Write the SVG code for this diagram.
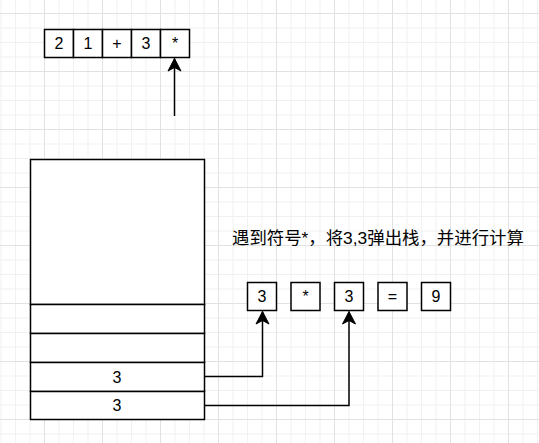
<svg xmlns="http://www.w3.org/2000/svg" width="539" height="443" viewBox="0 0 539 443">
<defs>
<pattern id="grid" patternUnits="userSpaceOnUse" x="44" y="13" width="58" height="58">
<rect x="14.5" y="0" width="1" height="58" fill="#f1f1f1"/>
<rect x="29" y="0" width="1" height="58" fill="#f1f1f1"/>
<rect x="43.5" y="0" width="1" height="58" fill="#f1f1f1"/>
<rect x="0" y="14.5" width="58" height="1" fill="#f1f1f1"/>
<rect x="0" y="29" width="58" height="1" fill="#f1f1f1"/>
<rect x="0" y="43.5" width="58" height="1" fill="#f1f1f1"/>
<rect x="0" y="0" width="1" height="58" fill="#e2e2e2"/>
<rect x="0" y="0" width="58" height="1" fill="#e2e2e2"/>
</pattern>
<marker id="arr" markerUnits="userSpaceOnUse" markerWidth="16" markerHeight="16" viewBox="-14 -8 16 16" refX="0" refY="0" orient="auto">
<path d="M0,0 L-12.5,-6.5 L-9,0 L-12.5,6.5 Z" fill="#000" stroke="#000" stroke-width="1"/>
</marker>
</defs>
<style>
.box{fill:#fff;stroke:#000;stroke-width:1.5}
.t{font-family:"Liberation Sans",Arial,"Noto Sans CJK SC",sans-serif;font-size:16px;fill:#000;text-anchor:middle;dominant-baseline:central}
.lbl{font-family:"Liberation Sans",Arial,"Noto Sans CJK SC",sans-serif;font-size:17.4px;fill:#000}
.edge{fill:none;stroke:#000;stroke-width:1.5;marker-end:url(#arr)}
</style>
<rect width="539" height="443" fill="#fff"/>
<rect width="539" height="443" fill="url(#grid)"/>

<g id="array">
<rect class="box" x="44.5" y="29.5" width="29" height="28"/>
<text class="t" x="59" y="43.5">2</text>
<rect class="box" x="73.5" y="29.5" width="29" height="28"/>
<text class="t" x="88" y="43.5">1</text>
<rect class="box" x="102.5" y="29.5" width="29" height="28"/>
<text class="t" x="117" y="43.5">+</text>
<rect class="box" x="131.5" y="29.5" width="29" height="28"/>
<text class="t" x="146" y="43.5">3</text>
<rect class="box" x="160.5" y="29.5" width="29" height="28"/>
<text class="t" x="175" y="43.5">*</text>
</g>

<g id="stack">
<rect class="box" x="30.5" y="159.5" width="174" height="145"/>
<rect class="box" x="30.5" y="304.5" width="174" height="29"/>
<rect class="box" x="30.5" y="333.5" width="174" height="29"/>
<rect class="box" x="30.5" y="362.5" width="174" height="29"/>
<text class="t" x="117" y="377">3</text>
<rect class="box" x="30.5" y="391.5" width="174" height="28"/>
<text class="t" x="117" y="405.5">3</text>
</g>

<g id="label">
<text class="lbl" x="232" y="243.5">遇到符号*，将3,3弹出栈，并进行计算</text>
</g>

<g id="calc">
<rect class="box" x="247.5" y="282.5" width="29" height="28"/>
<text class="t" x="262" y="296.5">3</text>
<rect class="box" x="291" y="282.5" width="29" height="28"/>
<text class="t" x="305.5" y="296.5">*</text>
<rect class="box" x="334.5" y="282.5" width="29" height="28"/>
<text class="t" x="349" y="296.5">3</text>
<rect class="box" x="378" y="282.5" width="29" height="28"/>
<text class="t" x="392.5" y="296.5">=</text>
<rect class="box" x="421.5" y="282.5" width="29" height="28"/>
<text class="t" x="436" y="296.5">9</text>
</g>

<g id="connectors">
<path class="edge" d="M174.5,116 L174.5,58.5"/>
<path class="edge" d="M204.5,376.5 L262.5,376.5 L262.5,311.5"/>
<path class="edge" d="M204.5,405.5 L349,405.5 L349,311.5"/>
</g>
</svg>
